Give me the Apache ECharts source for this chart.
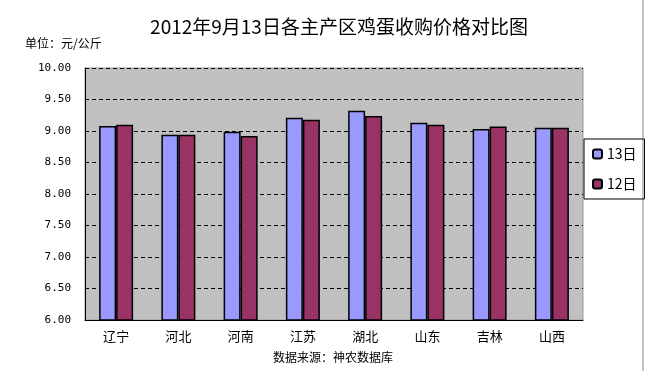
<!DOCTYPE html>
<html><head><meta charset="utf-8">
<script src="https://cdn.jsdelivr.net/npm/echarts@6/dist/echarts.min.js"></script>
<style>html,body{margin:0;padding:0;background:#fff}#c{width:645px;height:371px}</style>
</head><body><div id="c"></div>
<script>
const categories = ['辽宁','河北','河南','江苏','湖北','山东','吉林','山西'];
const series13 = [9.08, 8.94, 8.99, 9.21, 9.32, 9.13, 9.03, 9.05];
const series12 = [9.10, 8.94, 8.92, 9.18, 9.24, 9.10, 9.07, 9.05];
const seriesNames = ['13日','12日'];
const font = '"Noto Sans CJK SC", sans-serif';
const chart = echarts.init(document.getElementById('c'));
chart.setOption({
  animation: false,
  backgroundColor: '#fff',
  title: [
    {text: '2012年9月13日各主产区鸡蛋收购价格对比图', left: 334, top: 12, textAlign: 'center',
     textStyle: {fontFamily: font, fontSize: 19, fontWeight: 'normal', color: '#000'}},
    {text: '单位：元/公斤', left: 20, top: 32, textStyle: {fontFamily: font, fontSize: 12, fontWeight: 'normal', color: '#000'}},
    {text: '数据来源：神农数据库', left: 328, top: 346, textAlign: 'center',
     textStyle: {fontFamily: font, fontSize: 12, fontWeight: 'normal', color: '#000'}}
  ],
  legend: {
    orient: 'vertical', left: 584, top: 139, itemWidth: 9, itemHeight: 9, itemGap: 16,
    borderColor: '#000', borderWidth: 1, padding: [8, 8, 8, 8],
    textStyle: {fontFamily: font, fontSize: 14, color: '#000'},
    data: seriesNames
  },
  grid: {left: 85, right: 62, top: 68, bottom: 51, show: true, backgroundColor: '#c0c0c0', borderColor: '#999', borderWidth: 1},
  xAxis: {
    type: 'category', data: categories,
    axisLine: {lineStyle: {color: '#000'}},
    axisTick: {inside: true, length: 4, lineStyle: {color: '#000'}},
    axisLabel: {fontFamily: font, fontSize: 13, color: '#000', margin: 10}
  },
  yAxis: {
    type: 'value', min: 6, max: 10, interval: 0.5,
    axisLine: {show: true, lineStyle: {color: '#000'}},
    axisTick: {show: true, inside: true, length: 4, lineStyle: {color: '#000'}},
    axisLabel: {formatter: v => v.toFixed(2), fontFamily: '"DejaVu Sans Mono", monospace', fontSize: 11, color: '#000', margin: 14},
    splitLine: {lineStyle: {color: '#000', type: [4, 3], width: 1}}
  },
  series: [
    {name: seriesNames[0], type: 'bar', data: series13, barWidth: 17, barGap: '0%',
     itemStyle: {color: '#9999ff', borderColor: '#000', borderWidth: 1.5}},
    {name: seriesNames[1], type: 'bar', data: series12, barWidth: 17,
     itemStyle: {color: '#993366', borderColor: '#000', borderWidth: 1.5}}
  ],
  graphic: [{type: 'line', shape: {x1: 643, y1: 0, x2: 643, y2: 371}, style: {stroke: '#888', lineWidth: 1}}]
});
</script></body></html>
